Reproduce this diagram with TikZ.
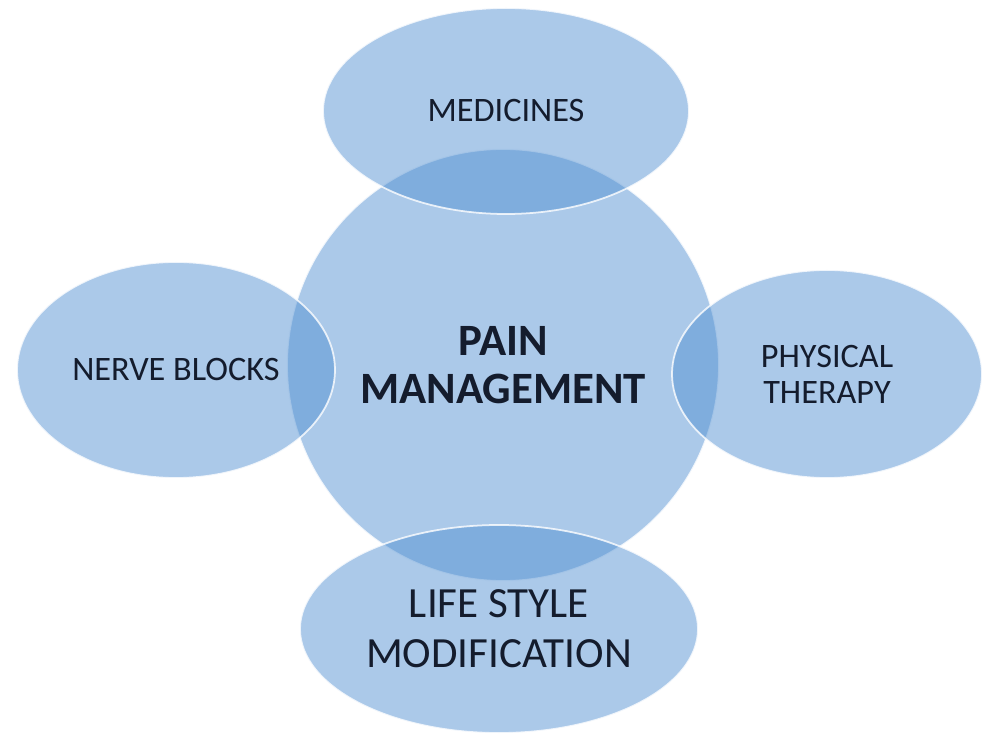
\documentclass[tikz,border=0pt]{standalone}
\usepackage{fontspec}
\setmainfont{Carlito}
\usetikzlibrary{shapes.geometric}
\tikzset{bubble/.style = {ellipse, draw = white, draw opacity = 0.8, line width = 1, fill = mblue, fill opacity = 0.48, text opacity = 1, text = mtext, inner sep = 0, align = center}}
\definecolor{mblue}{RGB}{79, 142, 209}
\definecolor{mtext}{RGB}{20, 28, 45}

\begin{document}
\begin{tikzpicture}
      \useasboundingbox (0, 0) rectangle (19.68, -14.7);

      \node [bubble, circle, minimum size = 8.64cm, font = \bfseries\fontsize{25.5}{27}\selectfont] (pain) at (10.06, -7.3) {PAIN\\MANAGEMENT};

      \node [bubble, minimum width = 7.32cm, minimum height = 4.12cm, font = \fontsize{19.5}{20}\selectfont] (med) at (10.12, -2.22) {MEDICINES};
      \node [bubble, minimum width = 6.36cm, minimum height = 4.32cm, font = \fontsize{19.5}{20}\selectfont] (nerve) at (3.52, -7.4) {NERVE BLOCKS};
      \node [bubble, minimum width = 6.2cm, minimum height = 4.16cm, font = \fontsize{19.5}{20.5}\selectfont] (phys) at (16.54, -7.48) {PHYSICAL\\THERAPY};
      \node [bubble, minimum width = 7.96cm, minimum height = 4.16cm, font = \fontsize{24.5}{28.5}\selectfont] (life) at (9.98, -12.58) {LIFE STYLE\\MODIFICATION};
    \end{tikzpicture}
\end{document}
